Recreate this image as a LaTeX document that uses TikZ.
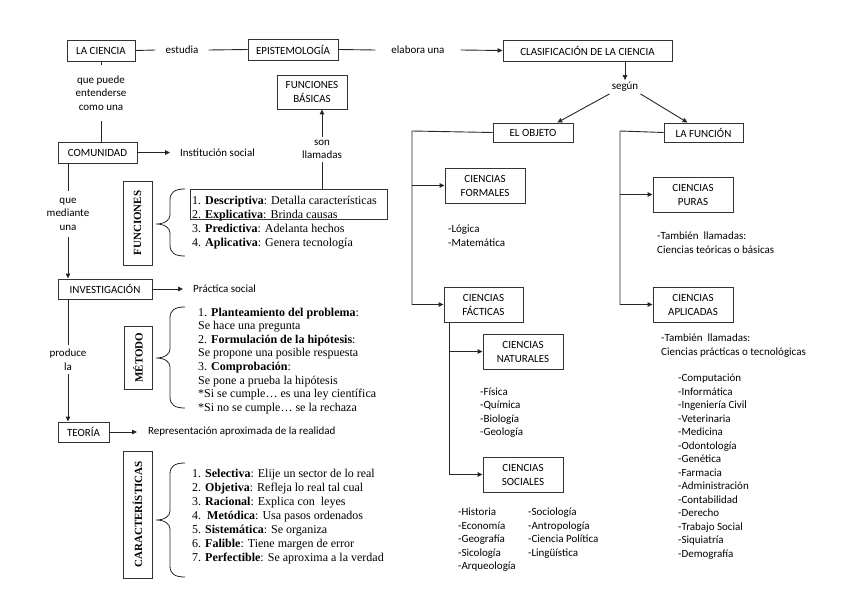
\documentclass[tikz,border=0pt]{standalone}
\usepackage{fontspec}
\setmainfont{Liberation Serif}
\newfontfamily\calfont{Carlito}
\usetikzlibrary{arrows.meta,calc}
\begin{document}
\begin{tikzpicture}[x=1pt,y=-1pt,
  box/.style={draw=black!80,line width=0.9pt,inner sep=0pt,align=center,font=\calfont\fontsize{11}{14}\selectfont},
  vbox/.style={draw=black!80,line width=0.9pt,inner sep=0pt,rotate=90,font=\fontsize{11}{13}\selectfont\bfseries},
  lbl/.style={inner sep=0pt,align=center,font=\calfont\fontsize{11}{13.5}\selectfont},
  ln/.style={draw=black!85,line width=0.9pt},
  arr/.style={ln,-{Triangle[length=5pt,width=4.5pt]}},
  stxt/.style={anchor=base west,inner sep=0pt,font=\calfont\fontsize{11}{13.5}\selectfont},
  rtxt/.style={anchor=base west,inner sep=0pt,font=\fontsize{12}{14}\selectfont},
]
\useasboundingbox (0,0) rectangle (848,599);

% ---- boxes
\node[box,minimum width=68pt,minimum height=21pt] (laciencia) at (101,50.5) {LA CIENCIA};
\node[box,minimum width=90pt,minimum height=21pt] (epis) at (293,49.5) {EPISTEMOLOGÍA};
\node[box,minimum width=169pt,minimum height=21pt] (clasif) at (587.5,50.5) {CLASIFICACIÓN DE LA CIENCIA};
\node[box,minimum width=80pt,minimum height=19pt] (objeto) at (533,132.5) {EL OBJETO};
\node[box,minimum width=79pt,minimum height=19pt] (funcion) at (703.5,132.5) {LA FUNCIÓN};
\node[box,minimum width=80pt,minimum height=35pt] (formales) at (485,185.5) {CIENCIAS\\FORMALES};
\node[box,minimum width=79pt,minimum height=35pt] (facticas) at (483.5,304.5) {CIENCIAS\\FÁCTICAS};
\node[box,minimum width=80pt,minimum height=35pt] (naturales) at (523,351.5) {CIENCIAS\\NATURALES};
\node[box,minimum width=80pt,minimum height=35pt] (sociales) at (523,474.5) {CIENCIAS\\SOCIALES};
\node[box,minimum width=80pt,minimum height=35pt] (puras) at (693,194.5) {CIENCIAS\\PURAS};
\node[box,minimum width=80pt,minimum height=35pt] (aplicadas) at (693,304.5) {CIENCIAS\\APLICADAS};
\node[box,minimum width=70pt,minimum height=34pt] (fbasic) at (312,92) {FUNCIONES\\BÁSICAS};
\node[box,minimum width=79pt,minimum height=21pt] (comunidad) at (97.5,152.5) {COMUNIDAD};
\node[box,minimum width=94pt,minimum height=20pt] (invest) at (105,289) {INVESTIGACIÓN};
\node[box,minimum width=51pt,minimum height=20pt] (teoria) at (83.5,432) {TEORÍA};
\node[vbox,minimum width=84pt,minimum height=29pt] (funcv) at (137.5,223) {FUNCIONES};
\node[vbox,minimum width=63pt,minimum height=28pt] (metodo) at (138,357.5) {MÉTODO};
\node[vbox,minimum width=127pt,minimum height=29pt] (caract) at (137.5,514.5) {CARACTERÍSTICAS};
\node[draw=black!80,line width=0.9pt,inner sep=0pt,minimum width=197pt,minimum height=30pt] (fbox) at (288.5,204) {};

% ---- labels
\node[lbl,inner xsep=10pt] (estudia) at (182,50) {estudia};
\node[lbl,inner xsep=16pt] (elabora) at (418,50) {elabora una};
\node[lbl,inner sep=2pt] (segun) at (625,87) {según};
\node[lbl,inner xsep=0pt,inner ysep=10pt] (q1) at (101,93) {que puede\\entenderse\\como una};
\node[lbl,inner xsep=0pt,inner ysep=7pt] (qm) at (68,214) {que\\mediante\\una};
\node[lbl,inner xsep=0pt,inner ysep=4pt] (pl) at (68,359.5) {produce\\la};
\node[lbl,inner xsep=0pt,inner ysep=3pt] (sonll) at (322,149.5) {son\\llamadas};
\node[lbl,anchor=west,inner xsep=10pt] (inst) at (170,152.5) {Institución social};
\node[lbl,anchor=west,inner xsep=10pt] (prac) at (183,289) {Práctica social};
\node[lbl,anchor=west,inner xsep=11pt] (repr) at (137,432) {Representación aproximada de la realidad};

% ---- connectors top
\draw[ln] (laciencia.east) -- (estudia.west);
\draw[ln] (estudia.east) -- (epis.west);
\draw[ln] (epis.east) -- (elabora.west);
\draw[arr] (elabora.east) -- (clasif.west);
\draw[arr] (segun.north |- clasif.south) -- (segun.north);
\draw[arr] (segun.south west) -- ($(objeto.north)!0.6!(objeto.north east)$);
\draw[arr] (segun.south east) -- ($(funcion.north)!0.4!(funcion.north west)$);

% ---- right trees
\coordinate (ot) at (412,131);
\draw[arr] (objeto.west) -- (ot) |- (facticas.west);
\draw[arr] (ot |- formales.west) -- (formales.west);
\coordinate (ft) at ($(facticas.south west)+(6,0)$);
\draw[arr] (ft) |- (sociales.west);
\draw[arr] (ft |- naturales.west) -- (naturales.west);
\coordinate (ut) at (620,131);
\draw[arr] (funcion.west) -- (ut) |- (aplicadas.west);
\draw[arr] (ut |- puras.west) -- (puras.west);

% ---- left chain
\draw[ln] (laciencia.south) -- (q1.north);
\draw[ln] (q1.south) -- (q1.south |- comunidad.north);
\draw[arr] (comunidad.east) -- (inst.west);
\draw[ln] (qm.north |- comunidad.south) -- (qm.north);
\draw[arr] (qm.south) -- (qm.south |- invest.north);
\draw[arr] (invest.east) -- (prac.west);
\draw[ln] (pl.north |- invest.south) -- (pl.north);
\draw[arr] (pl.south) -- (pl.south |- teoria.north);
\draw[arr] (teoria.east) -- (repr.west);
\draw[ln] (sonll.south) -- (sonll.south |- fbox.north);
\draw[arr] (sonll.north) -- (sonll.north |- fbasic.south);

% ---- braces
\foreach \t/\m/\b in {189/224/256, 307/358/408, 463/520/577}
  \draw[ln,line width=0.8pt] (185,\t) .. controls (175,\t) and (170,\t+3) .. (170,\t+11)
    -- (170,\m-9) .. controls (170,\m-4) and (165,\m) .. (156,\m)
    .. controls (165,\m) and (170,\m+4) .. (170,\m+9)
    -- (170,\b-11) .. controls (170,\b-3) and (175,\b) .. (185,\b);

% ---- serif texts
\foreach \s [count=\i from 0] in {
  {1. \textbf{Descriptiva}: Detalla características},
  {2. \textbf{Explicativa}: Brinda causas},
  {3. \textbf{Predictiva}: Adelanta hechos},
  {4. \textbf{Aplicativa}: Genera tecnología}}
  \node[rtxt] (fn\i) at (192,204+14*\i) {\s};

\foreach \s [count=\i from 0] in {
  {1. \textbf{Planteamiento del problema}:},
  {Se hace una pregunta},
  {2. \textbf{Formulación de la hipótesis}:},
  {Se propone una posible respuesta},
  {3. \textbf{Comprobación}:},
  {Se pone a prueba la hipótesis},
  {*Si se cumple… es una ley científica},
  {*Si no se cumple… se la rechaza}}
  \node[rtxt] (mt\i) at (198,316+13.6*\i) {\s};

\foreach \s [count=\i from 0] in {
  {1. \textbf{Selectiva}: Elije un sector de lo real},
  {2. \textbf{Objetiva}: Refleja lo real tal cual},
  {3. \textbf{Racional}: Explica con\ \ leyes},
  {4.\ \ \textbf{Metódica}: Usa pasos ordenados},
  {5. \textbf{Sistemática}: Se organiza},
  {6. \textbf{Falible}: Tiene margen de error},
  {7. \textbf{Perfectible}: Se aproxima a la verdad}}
  \node[rtxt] (ca\i) at (192,477+14*\i) {\s};

% ---- sans lists
\foreach \s [count=\i from 0] in {-Lógica,-Matemática}
  \node[stxt] (fo\i) at (448,232.5+14*\i) {\s};
\foreach \s [count=\i from 0] in {-Física,-Química,-Biología,-Geología}
  \node[stxt] (na\i) at (480,395+13.5*\i) {\s};
\foreach \s [count=\i from 0] in {-Historia,-Economía,-Geografía,-Sicología,-Arqueología}
  \node[stxt] (sa\i) at (458,515.5+13.5*\i) {\s};
\foreach \s [count=\i from 0] in {-Sociología,-Antropología,-Ciencia Política,-Lingüística}
  \node[stxt] (sb\i) at (528,515.5+13.5*\i) {\s};
\node[stxt] (pu0) at (657,239.5) {-También\ \ llamadas:};
\node[stxt] (pu1) at (657,253) {Ciencias teóricas o básicas};
\node[stxt] (ap0) at (661,341.5) {-También\ \ llamadas:};
\node[stxt] (ap1) at (661,355.5) {Ciencias prácticas o tecnológicas};
\foreach \s [count=\i from 0] in {-Computación,-Informática,-Ingeniería Civil,-Veterinaria,-Medicina,-Odontología,-Genética,-Farmacia,-Administración,-Contabilidad,-Derecho,-Trabajo Social,-Siquiatría,-Demografía}
  \node[stxt] (al\i) at (678,381.5+13.5*\i) {\s};
\end{tikzpicture}
\end{document}
